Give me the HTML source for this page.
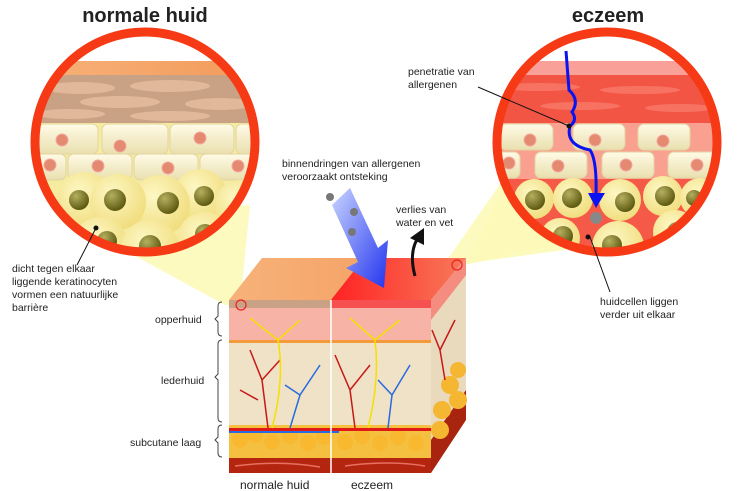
<!DOCTYPE html>
<html><head><meta charset="utf-8"><style>
body{margin:0;background:#fff}
svg{display:block}
text{font-family:"Liberation Sans",sans-serif;fill:#222}
</style></head><body>
<svg width="740" height="491" viewBox="0 0 740 491" xmlns="http://www.w3.org/2000/svg">
<defs>
<clipPath id="cl"><circle cx="145" cy="142" r="106"/></clipPath>
<clipPath id="cr"><circle cx="607" cy="142" r="106"/></clipPath>
<radialGradient id="yc" cx="0.4" cy="0.35" r="0.7"><stop offset="0" stop-color="#fdf7c4"/><stop offset="1" stop-color="#f0dc7a"/></radialGradient>
<radialGradient id="nu" cx="0.35" cy="0.3" r="0.7"><stop offset="0" stop-color="#b5b060"/><stop offset="1" stop-color="#5e5a10"/></radialGradient>
<linearGradient id="kc" x1="0" y1="0" x2="0" y2="1"><stop offset="0" stop-color="#fffbe6"/><stop offset="1" stop-color="#e9dfae"/></linearGradient>
<linearGradient id="bl" x1="0" y1="0" x2="1" y2="1"><stop offset="0" stop-color="#c8d4ff"/><stop offset="1" stop-color="#2233ee"/></linearGradient>
<linearGradient id="topL" x1="0" y1="0" x2="1" y2="0"><stop offset="0" stop-color="#f7b27a"/><stop offset="1" stop-color="#f39a5a"/></linearGradient>
<linearGradient id="topR" x1="0" y1="0" x2="1" y2="0"><stop offset="0" stop-color="#f22"/><stop offset="1" stop-color="#f77a5a"/></linearGradient>
</defs>
<!-- cones -->
<polygon points="60,215 250,205 240,305 225,305" fill="#fdf9b8" opacity="0.9"/>
<polygon points="505,180 600,245 455,265 470,260" fill="#fdf9b8" opacity="0.9"/>
<polygon points="440,270 510,170 560,245" fill="#fdf9b8" opacity="0.9"/>

<!-- left circle -->
<g clip-path="url(#cl)">
<rect x="30" y="30" width="230" height="230" fill="#fff"/>
<rect x="30" y="61" width="230" height="14" fill="url(#topL)"/>
<rect x="30" y="75" width="230" height="48" fill="#c9a184"/>
<g fill="#e8bfa0" opacity="0.8"><ellipse cx="80" cy="88" rx="35" ry="6"/><ellipse cx="170" cy="86" rx="40" ry="6"/><ellipse cx="120" cy="102" rx="40" ry="6"/><ellipse cx="220" cy="104" rx="35" ry="6"/><ellipse cx="70" cy="114" rx="35" ry="5"/><ellipse cx="170" cy="116" rx="40" ry="5"/></g>
<rect x="30" y="123" width="230" height="140" fill="#f5eca0"/>
<g fill="url(#kc)" stroke="#e2d4a0"><rect x="38" y="124" width="60" height="30" rx="6"/><rect x="102" y="124" width="66" height="30" rx="6"/><rect x="170" y="124" width="64" height="30" rx="6"/><rect x="236" y="124" width="40" height="30" rx="6"/>
<rect x="30" y="154" width="36" height="26" rx="6"/><rect x="68" y="154" width="64" height="26" rx="6"/><rect x="134" y="154" width="64" height="26" rx="6"/><rect x="200" y="154" width="64" height="26" rx="6"/></g>
<g fill="#e48a70" stroke="#f5a8a0"><circle cx="62" cy="140" r="6"/><circle cx="120" cy="146" r="6"/><circle cx="200" cy="138" r="6"/><circle cx="50" cy="165" r="6"/><circle cx="98" cy="166" r="6"/><circle cx="168" cy="168" r="6"/><circle cx="238" cy="166" r="6"/></g>
<g fill="url(#yc)"><circle cx="85" cy="200" r="28"/><circle cx="200" cy="196" r="27"/><circle cx="240" cy="205" r="25"/><circle cx="160" cy="205" r="30"/><circle cx="118" cy="202" r="28"/><circle cx="100" cy="245" r="28"/><circle cx="150" cy="250" r="30"/><circle cx="205" cy="240" r="28"/></g>
<g fill="url(#nu)"><circle cx="79" cy="200" r="10"/><circle cx="115" cy="200" r="11"/><circle cx="168" cy="203" r="11"/><circle cx="204" cy="196" r="10"/><circle cx="242" cy="203" r="9"/><circle cx="107" cy="241" r="10"/><circle cx="150" cy="246" r="11"/><circle cx="205" cy="234" r="10"/></g>
</g>
<circle cx="145" cy="142" r="110" fill="none" stroke="#f63a16" stroke-width="9"/>

<!-- right circle -->
<g clip-path="url(#cr)">
<rect x="490" y="30" width="240" height="230" fill="#fff"/>
<rect x="490" y="61" width="240" height="14" fill="#f9a098"/>
<rect x="490" y="75" width="240" height="48" fill="#f25544"/>
<g fill="#f87a6a" opacity="0.8"><ellipse cx="540" cy="87" rx="40" ry="4"/><ellipse cx="640" cy="90" rx="40" ry="4"/><ellipse cx="580" cy="106" rx="40" ry="4"/><ellipse cx="680" cy="108" rx="35" ry="4"/></g>
<rect x="490" y="123" width="240" height="56" fill="#f9a090"/>
<rect x="490" y="179" width="240" height="90" fill="#f55a48"/>
<g fill="url(#kc)" stroke="#e2d4a0"><rect x="500" y="124" width="53" height="26" rx="6"/><rect x="573" y="124" width="52" height="26" rx="6"/><rect x="638" y="124" width="52" height="26" rx="6"/>
<rect x="490" y="152" width="30" height="26" rx="6"/><rect x="535" y="152" width="52" height="26" rx="6"/><rect x="602" y="152" width="52" height="26" rx="6"/><rect x="668" y="152" width="50" height="26" rx="6"/></g>
<g fill="#e48a70" stroke="#f5a8a0"><circle cx="530" cy="140" r="6"/><circle cx="595" cy="140" r="6"/><circle cx="663" cy="141" r="6"/><circle cx="509" cy="163" r="6"/><circle cx="558" cy="166" r="6"/><circle cx="626" cy="165" r="6"/><circle cx="697" cy="165" r="6"/></g>
<g fill="url(#yc)"><circle cx="534" cy="199" r="20"/><circle cx="573" cy="198" r="20"/><circle cx="620" cy="200" r="21"/><circle cx="663" cy="196" r="20"/><circle cx="700" cy="198" r="20"/><circle cx="560" cy="238" r="20"/><circle cx="618" cy="247" r="26"/><circle cx="675" cy="232" r="22"/></g>
<g fill="url(#nu)"><circle cx="535" cy="200" r="10"/><circle cx="572" cy="198" r="10"/><circle cx="625" cy="202" r="10"/><circle cx="665" cy="196" r="10"/><circle cx="694" cy="198" r="8"/><circle cx="563" cy="236" r="10"/><circle cx="612" cy="245" r="10"/><circle cx="677" cy="232" r="10"/></g>
</g>
<circle cx="607" cy="142" r="110" fill="none" stroke="#f63a16" stroke-width="9"/>
<path d="M566,51 L569,90 Q580,100 572,112 Q578,120 570,126 Q565,145 590,150 Q597,160 596,195" fill="none" stroke="#0a14f0" stroke-width="3"/>
<polygon points="588,193 605,193 596,208" fill="#0a14f0"/>
<circle cx="596" cy="218" r="6" fill="#888"/>

<!-- cube -->
<polygon points="229,300 262,258 466,258 431,300" fill="url(#topL)"/>
<polygon points="331,300 364,258 466,258 431,300" fill="url(#topR)"/>
<polygon points="431,300 466,258 466,420 431,473" fill="#e9d9bd"/>
<polygon points="431,300 466,258 466,275 431,320" fill="#f48c80"/>
<polygon points="431,440 466,390 466,420 431,473" fill="#a8240f"/>
<circle cx="452" cy="412" r="0" />
<g fill="#f5b632"><circle cx="450" cy="385" r="9"/><circle cx="458" cy="400" r="9"/><circle cx="442" cy="410" r="9"/><circle cx="458" cy="370" r="8"/><circle cx="440" cy="430" r="9"/></g>
<rect x="229" y="300" width="202" height="8" fill="#c9a184"/>
<rect x="331" y="300" width="100" height="8" fill="#f65050"/>
<rect x="229" y="308" width="202" height="32" fill="#f7b3a6"/>
<rect x="229" y="340" width="202" height="3" fill="#f39a3a"/>
<rect x="229" y="343" width="202" height="82" fill="#efe2c6"/>
<rect x="229" y="425" width="202" height="33" fill="#f5c040"/>
<g fill="#f8b830"><circle cx="240" cy="440" r="8"/><circle cx="255" cy="435" r="8"/><circle cx="272" cy="442" r="8"/><circle cx="290" cy="436" r="8"/><circle cx="308" cy="443" r="8"/><circle cx="324" cy="437" r="8"/><circle cx="345" cy="442" r="8"/><circle cx="362" cy="436" r="8"/><circle cx="380" cy="443" r="8"/><circle cx="398" cy="437" r="8"/><circle cx="416" cy="443" r="8"/></g>
<rect x="229" y="428" width="202" height="3" fill="#e01818"/>
<rect x="229" y="431" width="110" height="2" fill="#2a6ae0"/>
<rect x="229" y="458" width="202" height="15" fill="#b3250f"/>
<path d="M235,466 Q280,460 320,467 M345,466 Q390,460 425,466" stroke="#e87060" stroke-width="1.5" fill="none"/>
<!-- vessels -->
<g fill="none" stroke-width="1.5">
<path d="M268,428 L262,380 L250,350 M262,380 L280,360 M258,400 L240,390" stroke="#c81818"/>
<path d="M290,428 L300,395 L320,365 M300,395 L285,385" stroke="#2a6ae0"/>
<path d="M355,428 L350,390 L335,355 M350,390 L370,365" stroke="#c81818"/>
<path d="M388,428 L392,395 L410,365 M392,395 L378,380" stroke="#2a6ae0"/>
<path d="M445,380 L440,350 L432,330 M440,350 L455,320" stroke="#c81818"/>
<path d="M272,428 Q285,380 278,340 L250,318 M278,340 L300,320" stroke="#f5e000"/>
<path d="M368,428 Q380,380 375,340 L350,318 M375,340 L400,320" stroke="#f5e000"/>
</g>
<line x1="331" y1="300" x2="331" y2="473" stroke="#fff" stroke-width="1.5"/>
<circle cx="241" cy="305" r="5" fill="none" stroke="#e22" stroke-width="1.2"/>
<circle cx="457" cy="265" r="5" fill="none" stroke="#e22" stroke-width="1.2"/>
<!-- allergen arrow -->
<polygon points="332,205 350,188 378,248 388,240 384,288 346,268 358,262" fill="url(#bl)"/>
<g fill="#777"><circle cx="330" cy="197" r="4"/><circle cx="354" cy="212" r="4"/><circle cx="352" cy="232" r="4"/></g>
<path d="M415,276 Q408,250 420,235" fill="none" stroke="#111" stroke-width="3"/>
<polygon points="410,238 424,228 424,245" fill="#111"/>
<!-- braces -->
<g fill="none" stroke="#444" stroke-width="1"><path d="M222,302 q-4,0 -4,4 v10 l-3,3 l3,3 v10 q0,4 4,4"/><path d="M222,340 q-4,0 -4,4 v30 l-3,3 l3,3 v38 q0,4 4,4"/><path d="M222,425 q-4,0 -4,4 v8 l-3,3 l3,3 v10 q0,4 4,4"/></g>
<!-- pointer lines -->
<g stroke="#111" stroke-width="1"><line x1="96" y1="228" x2="77" y2="265"/><line x1="478" y1="87" x2="569" y2="126"/><line x1="590" y1="237" x2="610" y2="292"/></g>
<g fill="#111"><circle cx="96" cy="228" r="2.5"/><circle cx="569" cy="126" r="2.5"/><circle cx="588" cy="237" r="2.5"/></g>
<!-- text -->
<text x="145" y="22" font-size="20" font-weight="bold" text-anchor="middle">normale huid</text>
<text x="608" y="22" font-size="20" font-weight="bold" text-anchor="middle">eczeem</text>
<g font-size="10.5">
<text x="12" y="272">dicht tegen elkaar</text><text x="12" y="285">liggende keratinocyten</text><text x="12" y="298">vormen een natuurlijke</text><text x="12" y="311">barrière</text>
<text x="408" y="75">penetratie van</text><text x="408" y="88">allergenen</text>
<text x="282" y="167">binnendringen van allergenen</text><text x="282" y="180">veroorzaakt ontsteking</text>
<text x="396" y="213">verlies van</text><text x="396" y="226">water en vet</text>
<text x="600" y="305">huidcellen liggen</text><text x="600" y="318">verder uit elkaar</text>
<text x="155" y="323">opperhuid</text><text x="161" y="384">lederhuid</text><text x="130" y="446">subcutane laag</text>
</g>
<text x="240" y="489" font-size="12">normale huid</text>
<text x="351" y="489" font-size="12">eczeem</text>
</svg>
</body></html>
